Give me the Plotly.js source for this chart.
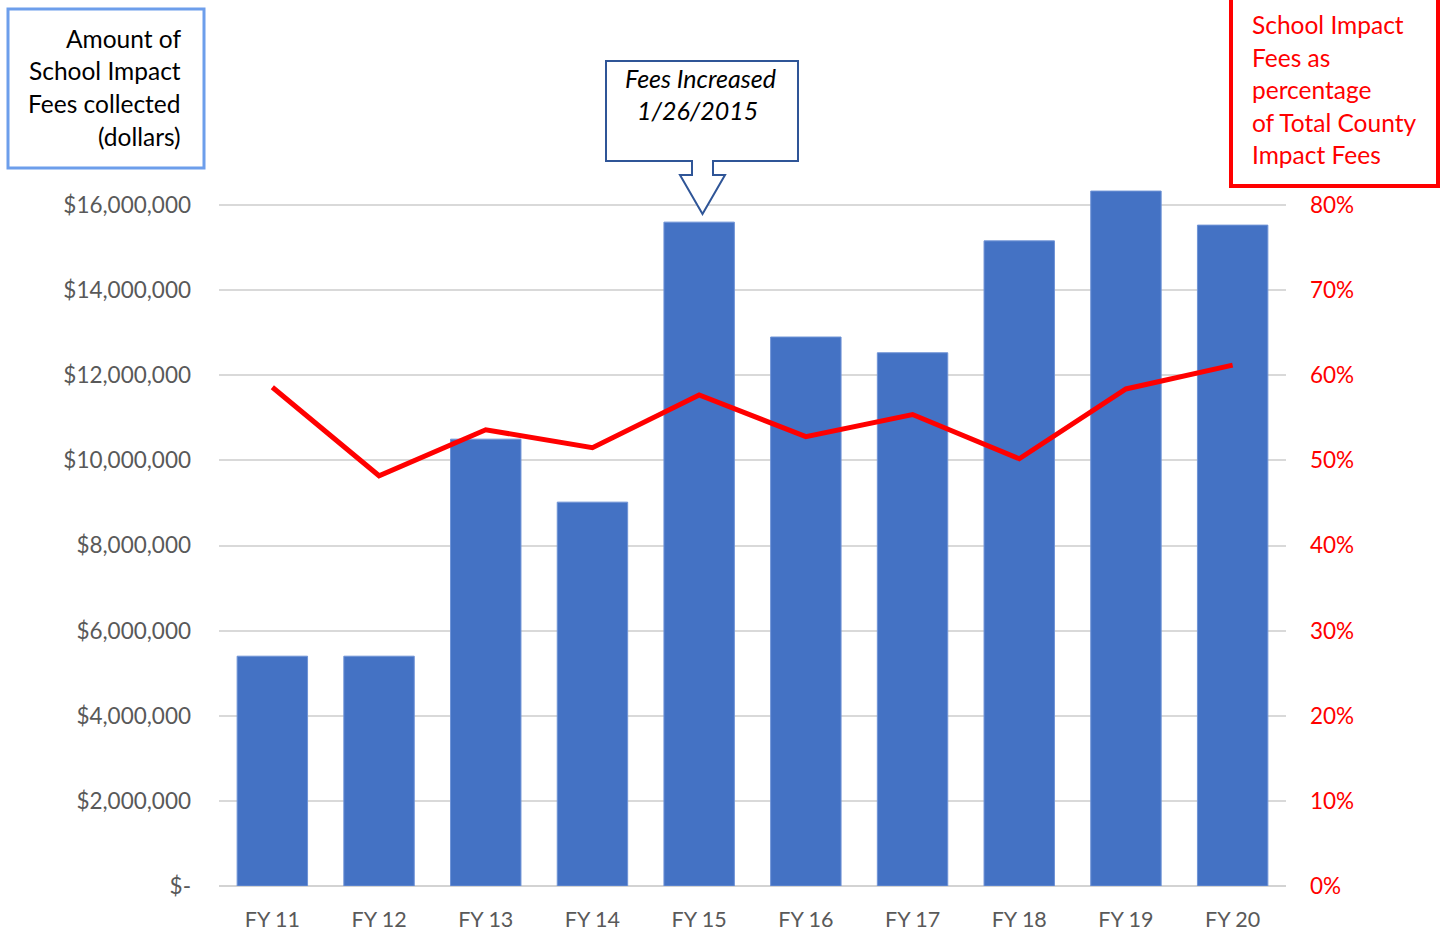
<!DOCTYPE html>
<html>
<head>
<meta charset="utf-8">
<script src="https://cdn.plot.ly/plotly-3.0.1.min.js"></script>
<style>
html,body{margin:0;padding:0;background:#fff;}
#chart{width:1449px;height:930px;}
</style>
</head>
<body>
<div id="chart"></div>
<script>
// ---- data ----
const categories = ["FY 11","FY 12","FY 13","FY 14","FY 15","FY 16","FY 17","FY 18","FY 19","FY 20"];
const feesCollected = [5400000, 5400000, 10500000, 9020000, 15600000, 12900000, 12530000, 15160000, 16330000, 15530000];
const pctOfCounty = [0.586, 0.482, 0.536, 0.515, 0.577, 0.528, 0.554, 0.502, 0.584, 0.612];
const leftTickVals = [0, 2000000, 4000000, 6000000, 8000000, 10000000, 12000000, 14000000, 16000000, 18000000];
const leftTickText = ["$-", "$2,000,000", "$4,000,000", "$6,000,000", "$8,000,000", "$10,000,000", "$12,000,000", "$14,000,000", "$16,000,000", ""];
const rightTickVals = [0, 0.1, 0.2, 0.3, 0.4, 0.5, 0.6, 0.7, 0.8];
const rightTickText = ["0%", "10%", "20%", "30%", "40%", "50%", "60%", "70%", "80%"];
const leftBoxLines = ["Amount of", "School Impact", "Fees collected", "(dollars)"];
const rightBoxLines = ["School Impact", "Fees as", "percentage", "of Total County", "Impact Fees"];
const calloutLines = ["Fees Increased", "1/26/2015"];

// ---- layout geometry ----
const W = 1449, H = 930;
const L = 219, R = 1286, T = 120, B = 886;
const px = x => (x - L) / (R - L);
const py = y => (B - y) / (B - T);
const FONT = "Lato, 'Liberation Sans', sans-serif";

const traces = [
  {
    type: "bar", x: categories, y: feesCollected, yaxis: "y",
    marker: {color: "#4472C4", line: {color: "#6f93d6", width: 1}},
    hoverinfo: "x+y"
  },
  {
    type: "scatter", mode: "lines", x: categories, y: pctOfCounty, yaxis: "y2",
    line: {color: "#FF0000", width: 5}
  }
];

function pathFrom(pts) {
  return "M" + pts.map(p => px(p[0]).toFixed(5) + "," + py(p[1]).toFixed(5)).join(" L") + " Z";
}

const shapes = [
  {type: "rect", xref: "paper", yref: "paper", x0: px(601), x1: px(817), y0: py(126), y1: py(115),
   fillcolor: "#fff", line: {width: 0}},
  {type: "rect", xref: "paper", yref: "paper", x0: px(8), x1: px(204), y0: py(168), y1: py(9),
   fillcolor: "#fff", line: {color: "#6D9EEB", width: 3}},
  {type: "rect", xref: "paper", yref: "paper", x0: px(1231), x1: px(1438), y0: py(186), y1: py(-5),
   fillcolor: "#fff", line: {color: "#FF0000", width: 4}},
  {type: "path", xref: "paper", yref: "paper",
   path: pathFrom([[606,61],[798,61],[798,161],[713,161],[713,175],[725,175],[702.5,214],[680,175],[692,175],[692,161],[606,161]]),
   fillcolor: "#fff", line: {color: "#2F5597", width: 2}}
];

const annotations = [];
const leftYs = [38, 70, 103, 136];
leftBoxLines.forEach((t, i) => annotations.push({
  xref: "paper", yref: "paper", x: px(183), y: py(leftYs[i]), xanchor: "right", yanchor: "middle",
  text: t, showarrow: false, font: {family: FONT, size: 24.5, color: "#000"}
}));
const rightYs = [24, 57, 90, 122, 154];
rightBoxLines.forEach((t, i) => annotations.push({
  xref: "paper", yref: "paper", x: px(1250), y: py(rightYs[i]), xanchor: "left", yanchor: "middle",
  text: t, showarrow: false, font: {family: FONT, size: 24.5, color: "#FF0000"}
}));
const calloutPos = [[700, 78], [697, 110]];
calloutLines.forEach((t, i) => annotations.push({
  xref: "paper", yref: "paper", x: px(calloutPos[i][0]), y: py(calloutPos[i][1]), xanchor: "center", yanchor: "middle",
  text: "<i>" + t + "</i>", showarrow: false, font: {family: FONT, size: 25, color: "#000"}
}));

const layout = {
  width: W, height: H,
  margin: {l: L, r: W - R, t: T, b: H - B, pad: 0},
  paper_bgcolor: "#fff", plot_bgcolor: "#fff",
  showlegend: false,
  bargap: 0.34,
  font: {family: FONT, size: 22, color: "#595959"},
  xaxis: {
    type: "category", showgrid: false, showline: false, zeroline: false,
    ticks: "", ticklabelstandoff: 18,
    tickfont: {family: FONT, size: 21.5, color: "#595959"}
  },
  yaxis: {
    range: [0, 18000000], tickvals: leftTickVals, ticktext: leftTickText,
    showgrid: true, gridcolor: "#D9D9D9", gridwidth: 2,
    zeroline: true, zerolinecolor: "#D3D3D3", zerolinewidth: 2,
    showline: false, ticks: "", ticklabelstandoff: 27,
    tickfont: {family: FONT, size: 22.5, color: "#595959"}
  },
  yaxis2: {
    range: [0, 0.9], tickvals: rightTickVals, ticktext: rightTickText,
    overlaying: "y", side: "right", showgrid: false, zeroline: false, showline: false,
    ticks: "", ticklabelstandoff: 23,
    tickfont: {family: FONT, size: 22.5, color: "#FF0000"}
  },
  shapes: shapes,
  annotations: annotations
};

Plotly.newPlot("chart", traces, layout, {displayModeBar: false, staticPlot: true});
</script>
</body>
</html>
